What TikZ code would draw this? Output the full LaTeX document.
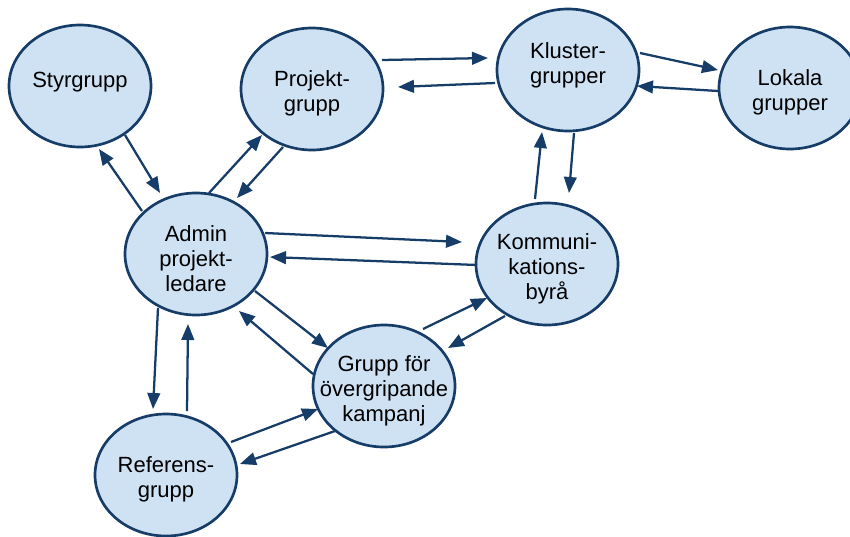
\documentclass[tikz,border=0pt]{standalone}
\usepackage{fontspec}
\setmainfont{Liberation Sans}
\usetikzlibrary{shapes,arrows.meta,positioning,calc}
\usepackage{xcolor}
\definecolor{bubblefill}{RGB}{207,226,243}
\definecolor{bubbleline}{RGB}{22,60,104}

\begin{document}
\begin{tikzpicture}[x=0.75pt,y=-0.75pt,
    bubble/.style={ellipse, draw=bubbleline, line width=2pt, fill=bubblefill,
        minimum width=106.5pt, minimum height=91.5pt, inner sep=0pt},
    lbl/.style={align=center, inner sep=0pt, yshift=-3.5pt, font=\fontsize{16.5}{18.75}\selectfont},
    arr/.style={-{Triangle[length=12pt,width=9.5pt]}, line width=1.7pt, draw=bubbleline}]
    \useasboundingbox (0,0) rectangle (850,536);
    % groups
    \node[bubble, label={[lbl, yshift=6.5pt]center:Styrgrupp}] (sty) at (80,86) {};
    \node[bubble, label={[lbl]center:Projekt-\\grupp}] (pro) at (312,89) {};
    \node[bubble, label={[lbl, yshift=7.25pt]center:Kluster-\\grupper}] (klu) at (568,70) {};
    \node[bubble, label={[lbl]center:Lokala\\grupper}] (lok) at (790,88) {};
    \node[bubble, label={[lbl]center:Admin\\projekt-\\ledare}] (adm) at (196,254) {};
    \node[bubble, label={[lbl]center:Kommuni-\\kations-\\byrå}] (kom) at (547,264) {};
    \node[bubble, label={[lbl]center:Grupp för\\övergripande\\kampanj}] (gru) at (384,386) {};
    \node[bubble, label={[lbl]center:Referens-\\grupp}] (ref) at (166,475) {};
    % paired arrows
    \draw[arr] ([shift={(45,49)}]sty.center) -- ([shift={(-36,-61)}]adm.center);
    \draw[arr] ([shift={(-54,-43)}]adm.center) -- ([shift={(19,63)}]sty.center);
    \draw[arr] ([shift={(13,-61)}]adm.center) -- ([shift={(-50,46)}]pro.center);
    \draw[arr] ([shift={(-29,58)}]pro.center) -- ([shift={(41,-56)}]adm.center);
    \draw[arr] ([shift={(70,-29)}]pro.center) -- ([shift={(-80,-12)}]klu.center);
    \draw[arr] ([shift={(-73,13)}]klu.center) -- ([shift={(86,-2)}]pro.center);
    \draw[arr] ([shift={(72,-17)}]klu.center) -- ([shift={(-72,-18)}]lok.center);
    \draw[arr] ([shift={(-72,3)}]lok.center) -- ([shift={(69,16)}]klu.center);
    \draw[arr] ([shift={(-12,-65)}]kom.center) -- ([shift={(-26,62)}]klu.center);
    \draw[arr] ([shift={(6,63)}]klu.center) -- ([shift={(22,-71)}]kom.center);
    \draw[arr] ([shift={(69,-21)}]adm.center) -- ([shift={(-85,-22)}]kom.center);
    \draw[arr] ([shift={(-70,1)}]kom.center) -- ([shift={(74,3)}]adm.center);
    \draw[arr] ([shift={(59,37)}]adm.center) -- ([shift={(-56,-38)}]gru.center);
    \draw[arr] ([shift={(-71,-12)}]gru.center) -- ([shift={(43,57)}]adm.center);
    \draw[arr] ([shift={(39,-57)}]gru.center) -- ([shift={(-60,34)}]kom.center);
    \draw[arr] ([shift={(-42,52)}]kom.center) -- ([shift={(64,-38)}]gru.center);
    \draw[arr] ([shift={(-38,54)}]adm.center) -- ([shift={(-13,-66)}]ref.center);
    \draw[arr] ([shift={(21,-64)}]ref.center) -- ([shift={(-8,70)}]adm.center);
    \draw[arr] ([shift={(65,-33)}]ref.center) -- ([shift={(-66,23)}]gru.center);
    \draw[arr] ([shift={(-49,45)}]gru.center) -- ([shift={(74,-11)}]ref.center);
\end{tikzpicture}
\end{document}
